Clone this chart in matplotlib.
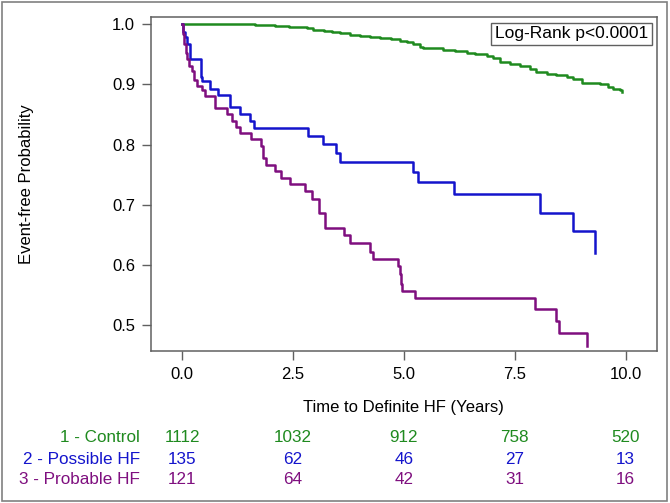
import matplotlib
matplotlib.use("Agg")
import matplotlib.pyplot as plt
from matplotlib.patches import Rectangle
from matplotlib.transforms import blended_transform_factory

plt.rcParams["font.family"] = ["Liberation Sans", "DejaVu Sans"]

# Kaplan-Meier step curves (time of step, survival after step)
ctrl_t = [0, 1.65, 2.10, 2.40, 2.81, 2.96, 3.19, 3.38, 3.57, 3.79, 4.02, 4.24, 4.47, 4.70,
          4.92, 5.06, 5.21, 5.36, 5.44, 5.66, 5.89, 6.15, 6.42, 6.60, 6.87, 7.02, 7.17, 7.39,
          7.62, 7.84, 7.99, 8.22, 8.44, 8.67, 8.82, 9.01, 9.42, 9.61, 9.72, 9.87, 9.91]
ctrl_s = [1.0, 0.998, 0.997, 0.995, 0.993, 0.991, 0.989, 0.987, 0.985, 0.983, 0.981, 0.979, 0.977, 0.975,
          0.973, 0.971, 0.968, 0.963, 0.961, 0.960, 0.958, 0.956, 0.953, 0.951, 0.947, 0.944, 0.938, 0.934,
          0.930, 0.925, 0.920, 0.917, 0.916, 0.913, 0.909, 0.902, 0.900, 0.895, 0.893, 0.891, 0.888]

poss_t = [0, 0.03, 0.07, 0.12, 0.17, 0.42, 0.44, 0.62, 0.82, 1.08, 1.31, 1.53, 1.63,
          2.85, 3.17, 3.47, 3.57, 5.20, 5.31, 6.13, 8.07, 8.81, 9.31]
poss_s = [1.0, 0.987, 0.979, 0.968, 0.942, 0.913, 0.905, 0.893, 0.882, 0.862, 0.850, 0.840, 0.828,
          0.815, 0.801, 0.786, 0.771, 0.755, 0.738, 0.717, 0.687, 0.656, 0.620]

prob_t = [0, 0.02, 0.045, 0.08, 0.12, 0.165, 0.22, 0.26, 0.33, 0.46, 0.52, 0.75, 1.02, 1.12,
          1.22, 1.31, 1.56, 1.78, 1.82, 1.89, 2.10, 2.24, 2.44, 2.78, 2.93, 3.08, 3.23, 3.66,
          3.78, 4.24, 4.30, 4.87, 4.91, 4.94, 4.96, 5.26, 7.95, 8.44, 8.50, 9.12]
prob_s = [1.0, 0.984, 0.968, 0.952, 0.942, 0.930, 0.922, 0.907, 0.897, 0.890, 0.880, 0.860, 0.850, 0.840,
          0.830, 0.820, 0.810, 0.798, 0.777, 0.766, 0.756, 0.745, 0.734, 0.723, 0.710, 0.686, 0.662, 0.649,
          0.636, 0.621, 0.610, 0.598, 0.584, 0.568, 0.557, 0.545, 0.526, 0.507, 0.486, 0.465]

# number at risk
risk_times = [0, 2.5, 5.0, 7.5, 10.0]
risk_labels = ["1 - Control", "2 - Possible HF", "3 - Probable HF"]
risk_ctrl = [1112, 1032, 912, 758, 520]
risk_poss = [135, 62, 46, 27, 13]
risk_prob = [121, 64, 42, 31, 16]

green = "#1f8a1f"
blue = "#1414cc"
purple = "#7f0f7f"
gray = "#606060"

fig = plt.figure(figsize=(6.7, 5.03), dpi=100)
ax = fig.add_axes([0.2254, 0.3022, 0.7547, 0.6634])

for t, s, c in [(ctrl_t, ctrl_s, green), (poss_t, poss_s, blue), (prob_t, prob_s, purple)]:
    ax.step(t, s, where="post", color=c, lw=1.8)

ax.set_xlim(-0.7, 10.7)
ax.set_ylim(0.4568, 1.0116)
ax.set_xticks(risk_times)
ax.set_xticklabels(["0.0", "2.5", "5.0", "7.5", "10.0"])
ax.set_yticks([0.5, 0.6, 0.7, 0.8, 0.9, 1.0])
ax.set_yticklabels(["0.5", "0.6", "0.7", "0.8", "0.9", "1.0"])
ax.tick_params(labelsize=12, length=6.5, width=1, color=gray, pad=5)
for sp in ax.spines.values():
    sp.set_color(gray)
    sp.set_linewidth(1.1)

ax.set_xlabel("Time to Definite HF (Years)", fontsize=12, labelpad=13)
ax.set_ylabel("Event-free Probability", fontsize=12)
ax.yaxis.set_label_coords(-0.232, 0.5)

ax.text(0.983, 0.951, "Log-Rank p<0.0001", transform=ax.transAxes, ha="right", va="center",
        fontsize=12.5, bbox=dict(boxstyle="square,pad=0.2", fc="white", ec=gray, lw=1))

# risk table
tr = blended_transform_factory(ax.transData, fig.transFigure)
rows_y = [1 - 438 / 503, 1 - 459 / 503, 1 - 480 / 503]
for lab, vals, c, y in zip(risk_labels, [risk_ctrl, risk_poss, risk_prob], [green, blue, purple], rows_y):
    fig.text(140 / 670, y, lab, color=c, fontsize=12.3, ha="right", va="center")
    for tt, v in zip(risk_times, vals):
        ax.text(tt, y, str(v), color=c, fontsize=12.3, ha="center", va="center", transform=tr)

fig.patches.append(Rectangle((2 / 670, 2 / 503), 665 / 670, 499 / 503, transform=fig.transFigure,
                             fill=False, ec="#808080", lw=1.2))

fig.savefig("out.png", dpi=100)
